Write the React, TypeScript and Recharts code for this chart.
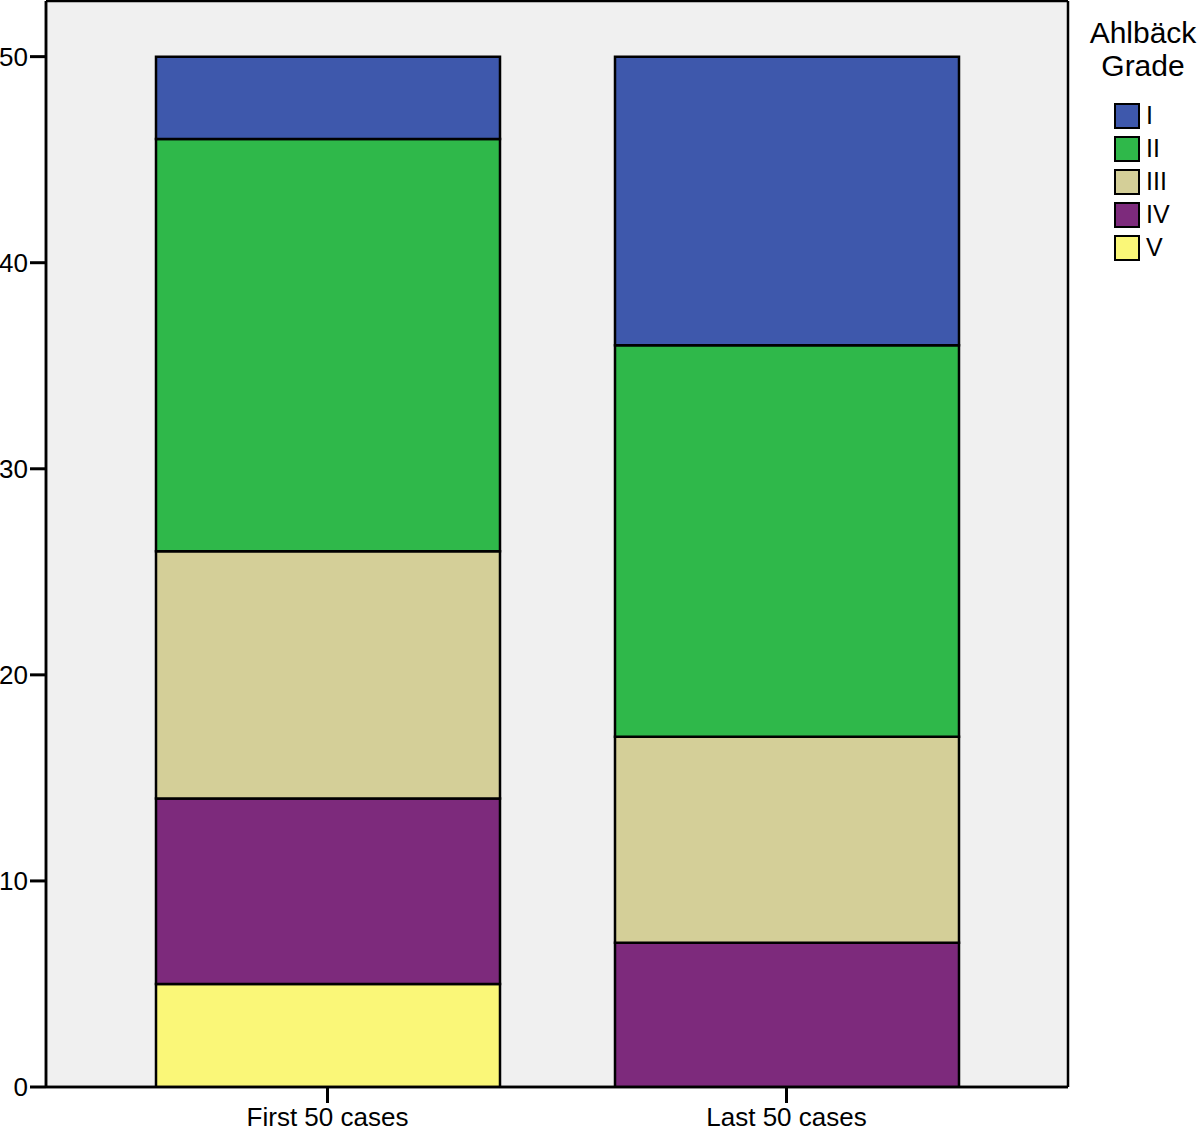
import React from 'react';
import { BarChart, Bar, XAxis, YAxis, CartesianGrid } from 'recharts';

const groups = ['First 50 cases', 'Last 50 cases'];
const grades = ['I', 'II', 'III', 'IV', 'V'];
const gradeColors = ['#3E58AC', '#2FB84A', '#D4CF98', '#7D2A7C', '#FAF778'];
const gradeI = [4, 14];
const gradeII = [20, 19];
const gradeIII = [12, 10];
const gradeIV = [9, 7];
const gradeV = [5, 0];
const yTicks = [0, 10, 20, 30, 40, 50];

const seriesValues = [gradeI, gradeII, gradeIII, gradeIV, gradeV];

const data = groups.map((g, i) => {
  const row: Record<string, string | number> = { group: g };
  grades.forEach((gr, k) => {
    row[gr] = seriesValues[k][i];
  });
  return row;
});

const font = 'Arial, "Liberation Sans", Helvetica, sans-serif';

// frame lines along the plot-area edges
const frameX = ({ offset }: any) => [offset.left, offset.left + offset.width];
const frameY = ({ offset }: any) => [offset.top, offset.top + offset.height];

const GradeLegend = () => (
  <div style={{ position: 'absolute', left: 1076, top: 16, width: 134, fontFamily: font, color: '#000' }}>
    <div style={{ fontSize: 30, lineHeight: '33px', textAlign: 'center' }}>Ahlbäck<br />Grade</div>
    <div style={{ marginTop: 17, marginLeft: 38 }}>
      {grades.map((gr, k) => (
        <div key={gr} style={{ display: 'flex', alignItems: 'center', height: 33 }}>
          <div style={{ width: 22, height: 22, background: gradeColors[k], border: '2px solid #000', boxSizing: 'content-box' }} />
          <span style={{ fontSize: 25, marginLeft: 6 }}>{gr}</span>
        </div>
      ))}
    </div>
  </div>
);

const App: React.FC = () => {
  return (
    <div style={{ position: 'absolute', left: 0, top: 0, width: 1200, height: 1131, background: '#fff' }}>
      <BarChart width={1200} height={1131} data={data} margin={{ top: 1, right: 132, left: 0, bottom: 0 }} barSize={344}>
        <CartesianGrid
          fill="#F0F0F0"
          stroke="#000"
          strokeWidth={2.5}
          verticalCoordinatesGenerator={frameX}
          horizontalCoordinatesGenerator={frameY}
        />
        <XAxis
          dataKey="group"
          height={44}
          padding={{ left: 52, right: 52 }}
          tickSize={16}
          tickMargin={5}
          tickLine={{ stroke: '#000', strokeWidth: 3 }}
          axisLine={{ stroke: '#000', strokeWidth: 2.5 }}
          tick={{ fill: '#000', fontSize: 26, fontFamily: font }}
        />
        <YAxis
          width={46}
          domain={[0, 52.7]}
          ticks={yTicks}
          interval={0}
          allowDataOverflow
          tickSize={16}
          tickMargin={2}
          tickLine={{ stroke: '#000', strokeWidth: 3 }}
          axisLine={{ stroke: '#000', strokeWidth: 2.5 }}
          tick={{ fill: '#000', fontSize: 26, fontFamily: font }}
        />
        {[...grades].reverse().map((gr) => {
          const k = grades.indexOf(gr);
          return (
            <Bar
              key={gr}
              dataKey={gr}
              stackId="a"
              fill={gradeColors[k]}
              stroke="#000"
              strokeWidth={2.5}
              isAnimationActive={false}
            />
          );
        })}
      </BarChart>
      <GradeLegend />
    </div>
  );
};

export default App;
